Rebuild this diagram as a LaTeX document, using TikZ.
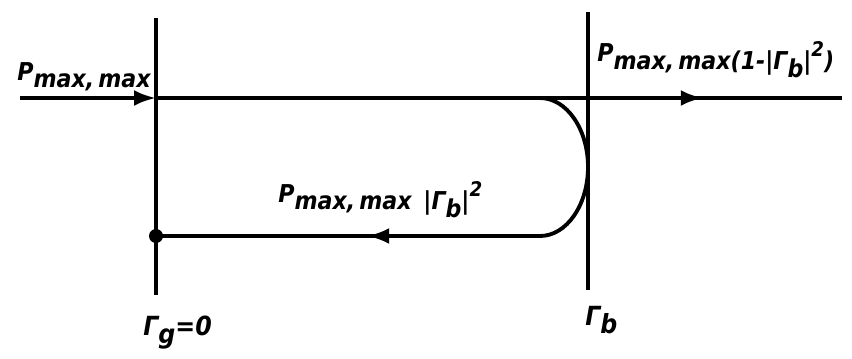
\documentclass[tikz,border=0pt]{standalone}
\usepackage{fontspec}
\setmainfont{DejaVu Sans Condensed}
\usetikzlibrary{arrows.meta, decorations.markings}

\newcommand{\lowsub}[1]{\raisebox{-0.32em}{#1}}
\newcommand{\highsup}[1]{\raisebox{0.55em}{\fontsize{11.5}{12}\selectfont #1}}

\begin{document}
\begin{tikzpicture}[
        wire/.style={line width=2.2pt, black},
        refline/.style={line width=1.8pt, black},
        lbl/.style={font=\fontsize{14}{16}\selectfont\bfseries\itshape, inner sep=0pt, anchor=base west},
        glbl/.style={font=\fontsize{15}{17}\selectfont\bfseries\itshape, inner sep=0pt, anchor=base west},
        tip/.style={postaction={decorate}, decoration={markings, mark=at position #1 with {\arrow{Latex[length=0.44cm, width=0.32cm]}}}}
    ]
    \useasboundingbox (0,0) rectangle (17.04,-7.16);

    % reference planes
    \coordinate (gtop) at (3.12,-0.36);
    \coordinate (gbot) at (3.12,-5.9);
    \coordinate (btop) at (11.76,-0.24);
    \coordinate (bbot) at (11.76,-5.8);

    % wave path
    \coordinate (inl) at (0.4,-1.96);
    \coordinate (gx) at (3.12,-1.96);
    \coordinate (outr) at (16.84,-1.96);
    \coordinate (turn) at (10.8,-1.96);
    \coordinate (ret) at (10.8,-4.72);
    \coordinate (gdot) at (3.12,-4.72);

    \draw[refline] (gtop) -- (gbot);
    \draw[refline] (btop) -- (bbot);

    \draw[wire, -{Latex[length=0.44cm, width=0.32cm]}] (inl) -- (gx);
    \draw[wire, tip=0.797] (gx) -- (outr);
    \draw[wire] (turn) arc[start angle=90, end angle=-90, x radius=0.96, y radius=1.38];
    \draw[wire, tip=0.45] (ret) -- (gdot);
    \fill (gdot) circle (0.14);

    \node[lbl] (pin) at (0.34,-1.6) {P\lowsub{max,\,max}};
    \node[lbl] (ptrans) at (11.94,-1.24) {P\lowsub{max,\,max(1-|Γ\lowsub{b}|\highsup{2})}};
    \node[lbl] (prefl) at (5.56,-4.04) {P\lowsub{max,\,max \,|Γ\lowsub{b}|\highsup{2}}};

    \node[glbl] (gg) at (2.86,-6.7) {Γ\lowsub{g}=0};
    \node[glbl] (gb) at (11.7,-6.5) {Γ\lowsub{b}};
\end{tikzpicture}
\end{document}
